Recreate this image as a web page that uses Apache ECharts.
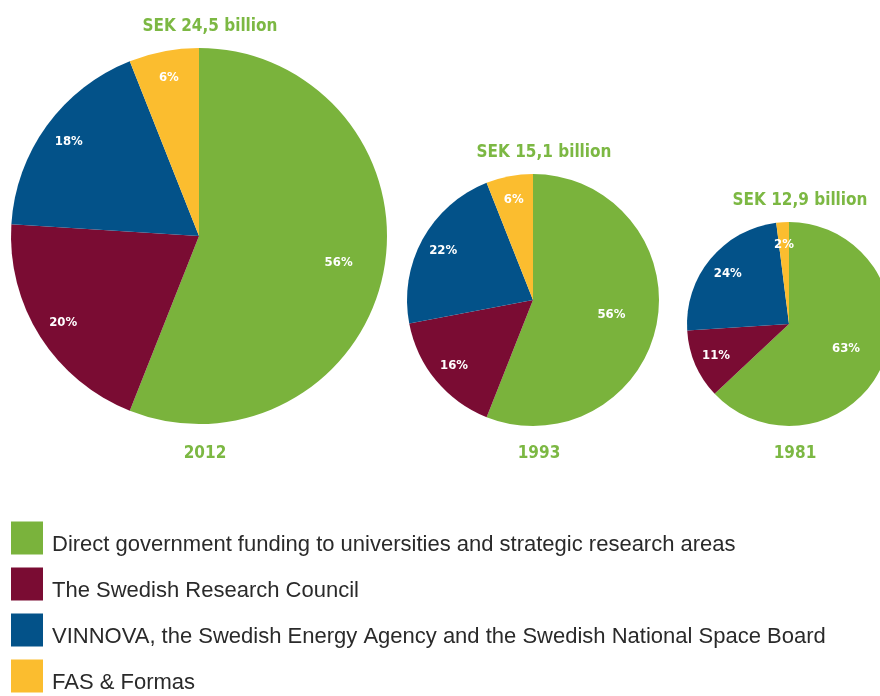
<!DOCTYPE html>
<html>
<head>
<meta charset="utf-8">
<style>
  html, body { margin: 0; padding: 0; background: #fff; }
  #chart { width: 880px; height: 696px; }
</style>
<script src="https://cdn.jsdelivr.net/npm/echarts@6/dist/echarts.min.js"></script>
</head>
<body>
<div id="chart"></div>
<script>
// Funding categories (legend order, also slice order clockwise from 12 o'clock)
const categories = [
  'Direct government funding to universities and strategic research areas',
  'The Swedish Research Council',
  'VINNOVA, the Swedish Energy Agency and the Swedish National Space Board',
  'FAS & Formas'
];
const colors = ['#7ab33c', '#7a0c33', '#035289', '#fbbd2f'];

// Years, totals and percentage shares per category
const years = ['2012', '1993', '1981'];
const totals = ['SEK 24,5 billion', 'SEK 15,1 billion', 'SEK 12,9 billion'];
const share2012 = [56, 20, 18, 6];
const share1993 = [56, 16, 22, 6];
const share1981 = [63, 11, 24, 2];
const shares = [share2012, share1993, share1981];

// Layout of each pie: centre and radius in pixels
const pieCenters = [[199, 236], [533, 300], [789, 324]];
const pieRadii = [188, 126, 102];
// inner edge (fraction of radius) of the invisible rings carrying the labels;
// an 'inside' label sits halfway across its ring
const mainLabelInner = [0.48, 0.22, 0.16];
const otherLabelInner = [0.68, 0.58, 0.5];
const titleY = [13, 139, 187];
const yearY = 440;

const labelFont = { color: '#fff', fontFamily: 'DejaVu Sans Condensed', fontWeight: 'bold', fontSize: 13 };
const headFont = { color: '#7cb843', fontFamily: 'DejaVu Sans Condensed', fontWeight: 'bold', fontSize: 17 };

const series = [];
const titles = [];
years.forEach((yr, i) => {
  const c = pieCenters[i], r = pieRadii[i];
  series.push({
    type: 'pie', name: yr, center: c, radius: [0, r],
    startAngle: 90, clockwise: true, silent: true,
    label: { show: false }, labelLine: { show: false },
    itemStyle: { borderWidth: 0 },
    data: categories.map((n, k) => ({ name: n, value: shares[i][k], itemStyle: { color: colors[k] } }))
  });
  [[mainLabelInner[i], true], [otherLabelInner[i], false]].forEach(([inner, isMain]) => {
    series.push({
      type: 'pie', center: c, radius: [r * inner, r],
      startAngle: 90, clockwise: true, silent: true,
      itemStyle: { color: 'rgba(0,0,0,0)', borderWidth: 0 },
      labelLine: { show: false },
      label: Object.assign({ position: 'inside', formatter: '{c}%' }, labelFont),
      data: categories.map((n, k) => ({
        name: n, value: shares[i][k],
        label: { show: isMain ? k === 0 : k !== 0 }
      }))
    });
  });
  titles.push({ text: totals[i], left: c[0] + 6, top: titleY[i], textAlign: 'center', textStyle: headFont });
  titles.push({ text: yr, left: c[0] + 1, top: yearY, textAlign: 'center', textStyle: headFont });
});

const chart = echarts.init(document.getElementById('chart'), null, { renderer: 'canvas' });
chart.setOption({
  backgroundColor: '#fff',
  animation: false,
  title: titles,
  legend: {
    orient: 'vertical', left: 11, top: 520, padding: 0,
    itemWidth: 32, itemHeight: 33, itemGap: 10,
    selectedMode: false, icon: 'rect',
    formatter: name => '{t|' + name + '}',
    textStyle: {
      rich: {
        t: { fontFamily: 'Liberation Sans', fontSize: 22, lineHeight: 22, color: '#2a2a2a', padding: [14, 0, 0, 4] }
      }
    },
    data: categories.map((n, k) => ({ name: n, itemStyle: { color: colors[k] } }))
  },
  series: series
});
</script>
</body>
</html>
